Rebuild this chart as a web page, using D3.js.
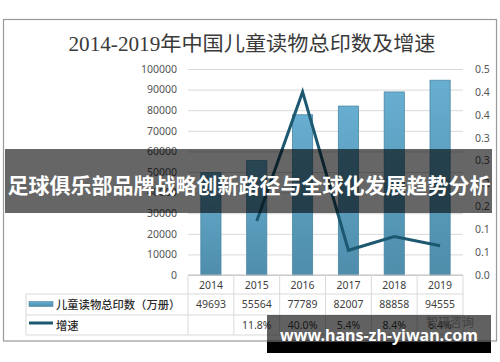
<!DOCTYPE html>
<html>
<head>
<meta charset="utf-8">
<script src="https://cdn.jsdelivr.net/npm/d3@7"></script>
<style>
  body { margin: 0; background: #fff; }
  svg { display: block; }
</style>
</head>
<body>
<svg id="chart" width="500" height="362"></svg>
<script>
    // data
    var years = ["2014", "2015", "2016", "2017", "2018", "2019"];
    var printTotals = [49693, 55564, 77789, 82007, 88858, 94555];
    var growth = [null, 0.118, 0.400, 0.054, 0.084, 0.064];
    var leftTicks = [0, 10000, 20000, 30000, 40000, 50000, 60000, 70000, 80000, 90000, 100000];
    var rightTicks = [0, 0.05, 0.1, 0.15, 0.2, 0.25, 0.3, 0.35, 0.4, 0.45];

    var title = "2014-2019年中国儿童读物总印数及增速";
    var barName = "儿童读物总印数（万册）";
    var lineName = "增速";
    var bannerText = "足球俱乐部品牌战略创新路径与全球化发展趋势分析";
    var siteText = "www.hans-zh-yiwan.com";
    var logoText = "智研咨询";

    var svg = d3.select("#chart");
    var font = "'Noto Sans', 'Noto Sans CJK SC', sans-serif";

    var plot = { left: 188, right: 463, top: 69, bottom: 275 };

    var x = d3.scaleBand().domain(years).range([plot.left, plot.right]);
    var y = d3.scaleLinear().domain([0, 100000]).range([plot.bottom, plot.top]);
    var y2 = d3.scaleLinear().domain([0, 0.45]).range([plot.bottom, plot.top]);

    // excel style rounding, half goes up
    function fmt1(d) { return (Math.round(d * 10 + 1e-9) / 10).toFixed(1); }

    var defs = svg.append("defs");
    var grad = defs.append("linearGradient").attr("id", "barGrad")
      .attr("x1", 0).attr("y1", 0).attr("x2", 0).attr("y2", 1);
    grad.append("stop").attr("offset", "0%").attr("stop-color", "#67aed0");
    grad.append("stop").attr("offset", "100%").attr("stop-color", "#4f8dab");

    // outer frame
    svg.append("rect")
      .attr("x", 3.5).attr("y", 19.5).attr("width", 493).attr("height", 321.5)
      .attr("fill", "#fff").attr("stroke", "#9a9a9a").attr("stroke-width", 1.2);

    svg.append("text")
      .attr("x", 252).attr("y", 44)
      .attr("text-anchor", "middle").attr("dominant-baseline", "central")
      .attr("font-family", "'Liberation Serif', 'Noto Sans CJK SC', serif")
      .attr("font-size", 20.5).attr("fill", "#3a3a3a")
      .attr("textLength", 367).attr("lengthAdjust", "spacingAndGlyphs")
      .text(title);

    // gridlines + left axis
    var leftAxis = svg.append("g")
      .attr("transform", "translate(" + plot.left + ",0)")
      .call(d3.axisLeft(y).tickValues(leftTicks).tickSize(-(plot.right - plot.left)).tickPadding(11).tickFormat(d3.format("d")));
    leftAxis.select(".domain").remove();
    leftAxis.selectAll(".tick line").attr("stroke", "#d9d9d9");
    leftAxis.selectAll(".tick text").attr("font-family", font).attr("font-size", 10.5).attr("fill", "#555");

    var rightAxis = svg.append("g")
      .attr("transform", "translate(" + plot.right + ",0)")
      .call(d3.axisRight(y2).tickValues(rightTicks).tickSize(0).tickPadding(12).tickFormat(fmt1));
    rightAxis.select(".domain").remove();
    rightAxis.selectAll(".tick text").attr("font-family", font).attr("font-size", 10.5).attr("fill", "#555");

    // bars
    var barW = x.bandwidth() * 0.44;
    svg.append("g").selectAll("rect")
      .data(printTotals)
      .enter().append("rect")
      .attr("x", function(d, i) { return x(years[i]) + (x.bandwidth() - barW) / 2; })
      .attr("y", function(d) { return y(d); })
      .attr("width", barW)
      .attr("height", function(d) { return y(0) - y(d); })
      .attr("fill", "url(#barGrad)")
      .attr("stroke", "#4a87a4").attr("stroke-width", 0.8);

    // growth line
    var line = d3.line()
      .defined(function(d) { return d != null; })
      .x(function(d, i) { return x(years[i]) + x.bandwidth() / 2; })
      .y(function(d) { return y2(d); });
    svg.append("path")
      .datum(growth)
      .attr("d", line)
      .attr("fill", "none").attr("stroke", "#1c5870").attr("stroke-width", 3)
      .attr("stroke-linejoin", "miter");

    // data table under the chart
    var table = svg.append("g");
    var rowY = [275, 294, 315, 335];
    var tLeft = 26;
    table.append("line").attr("x1", plot.left).attr("x2", plot.right).attr("y1", rowY[0]).attr("y2", rowY[0])
      .attr("stroke", "#bfbfbf");
    [1, 2, 3].forEach(function(r) {
      table.append("line").attr("x1", tLeft).attr("x2", plot.right).attr("y1", rowY[r]).attr("y2", rowY[r])
        .attr("stroke", "#d9d9d9");
    });
    table.append("line").attr("x1", tLeft).attr("x2", tLeft).attr("y1", rowY[1]).attr("y2", rowY[3])
      .attr("stroke", "#d9d9d9");
    years.concat(["end"]).forEach(function(yr, i) {
      var xx = i < years.length ? x(yr) : plot.right;
      table.append("line").attr("x1", xx).attr("x2", xx).attr("y1", rowY[0]).attr("y2", rowY[3])
        .attr("stroke", "#d9d9d9");
    });

    function cells(values, cy) {
      table.append("g").selectAll("text")
        .data(values)
        .enter().append("text")
        .attr("x", function(d, i) { return x(years[i]) + x.bandwidth() / 2; })
        .attr("y", cy)
        .attr("text-anchor", "middle").attr("dominant-baseline", "central")
        .attr("font-family", font).attr("font-size", 10.5).attr("fill", "#404040")
        .text(function(d) { return d; });
    }
    cells(years, 284.5);
    cells(printTotals, 304);
    cells(growth.map(function(d) { return d == null ? "" : d3.format(".1%")(d); }), 325);

    // legend keys in the table
    table.append("rect").attr("x", 29).attr("y", 301.5).attr("width", 24).attr("height", 5)
      .attr("fill", "url(#barGrad)").attr("stroke", "#4a87a4").attr("stroke-width", 0.6);
    table.append("line").attr("x1", 29).attr("x2", 53).attr("y1", 323).attr("y2", 323)
      .attr("stroke", "#1c5870").attr("stroke-width", 3);
    table.append("text").attr("x", 56).attr("y", 304).attr("dominant-baseline", "central")
      .attr("font-family", font).attr("font-size", 11.3).attr("font-weight", 500).attr("fill", "#2a2a2a")
      .text(barName);
    table.append("text").attr("x", 56).attr("y", 325).attr("dominant-baseline", "central")
      .attr("font-family", font).attr("font-size", 11.3).attr("font-weight", 500).attr("fill", "#2a2a2a")
      .text(lineName);

    table.append("text").attr("x", 450).attr("y", 322).attr("text-anchor", "middle").attr("dominant-baseline", "central")
      .attr("font-family", font).attr("font-size", 12).attr("fill", "#aaa")
      .text(logoText);

    // overlays on the picture
    svg.append("rect").attr("x", 5).attr("y", 149).attr("width", 487).attr("height", 64)
      .attr("fill", "rgba(0,0,0,0.6)");
    svg.append("text").attr("x", 249).attr("y", 184)
      .attr("text-anchor", "middle").attr("dominant-baseline", "central")
      .attr("font-family", "'Noto Sans CJK SC', sans-serif").attr("font-size", 21).attr("font-weight", 700)
      .attr("fill", "#fff")
      .text(bannerText);

    svg.append("rect").attr("x", 267).attr("y", 315).attr("width", 224).attr("height", 27)
      .attr("fill", "rgba(0,0,0,0.62)");
    svg.append("rect").attr("x", 267).attr("y", 342).attr("width", 224).attr("height", 11)
      .attr("fill", "#000");
    svg.append("text").attr("x", 379).attr("y", 341)
      .attr("text-anchor", "middle")
      .attr("font-family", font).attr("font-size", 16).attr("font-weight", 700)
      .attr("fill", "#fff")
      .text(siteText);
</script>
</body>
</html>
